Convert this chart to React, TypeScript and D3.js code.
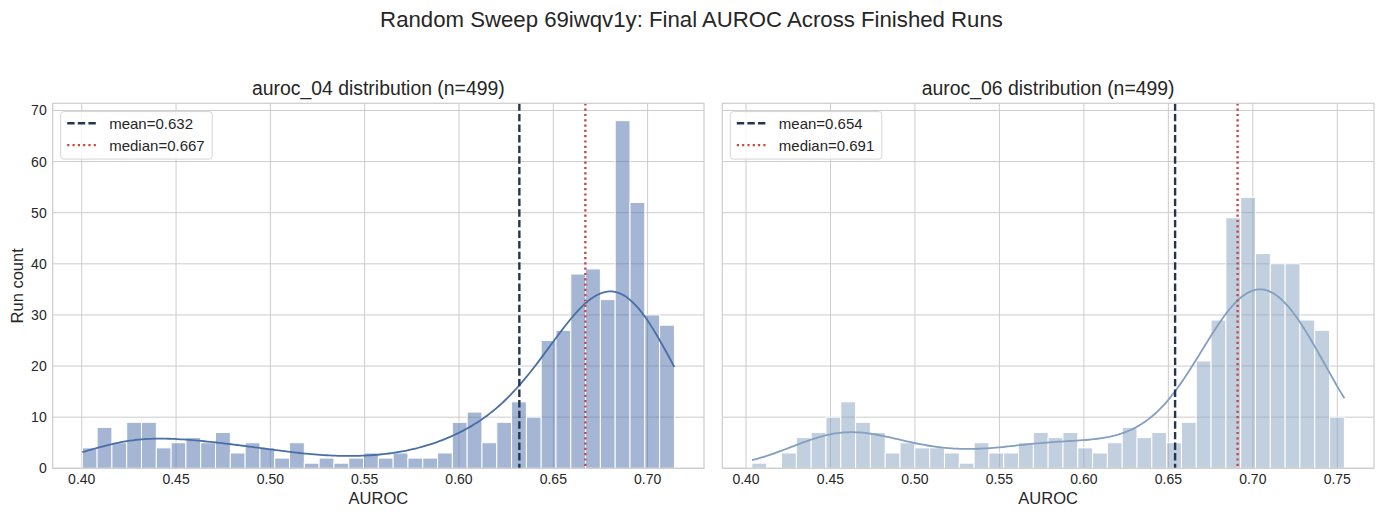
import * as d3 from "d3";

// ---- data ----
const leftCounts = [
  4, 8, 5, 9, 9, 4, 5, 6, 5, 7, 3, 5, 4, 2, 5, 1, 2, 1, 2, 3,
  2, 3, 2, 2, 3, 9, 11, 5, 9, 13, 10, 25, 27, 38, 39, 33, 68, 52, 30, 28,
];
const rightCounts = [
  1, 0, 3, 6, 7, 10, 13, 9, 7, 3, 5, 4, 4, 3, 1, 5, 3, 3, 5, 7,
  6, 7, 4, 3, 5, 8, 6, 7, 5, 9, 21, 29, 49, 53, 42, 40, 40, 29, 27, 10,
];
const leftRange = [0.4003, 0.7142];
const rightRange = [0.4035, 0.7542];
const leftTicks = [0.4, 0.45, 0.5, 0.55, 0.6, 0.65, 0.7];
const rightTicks = [0.4, 0.45, 0.5, 0.55, 0.6, 0.65, 0.7, 0.75];
const yTicks = [0, 10, 20, 30, 40, 50, 60, 70];
const stats = [
  { name: "auroc_04", mean: 0.632, median: 0.667 },
  { name: "auroc_06", mean: 0.654, median: 0.691 },
];

const W = 1383;
const H = 517;
const TOP = 103.3;
const BOTTOM = 468.3;
const FONT = "'Liberation Sans', Arial, sans-serif";
const TEXT = "#262626";
const GRID = "#cccccc";
const DASH = "7.4,3.2";
const DOT = "2.2,3.1";

const y = d3.scaleLinear().domain([0, 71.4]).range([BOTTOM, TOP]);

type PanelProps = {
  counts: number[];
  range: number[];
  ticks: number[];
  left: number;
  right: number;
  color: string;
  title: string;
  mean: number;
  median: number;
  showY: boolean;
};

// gaussian kde (scott bandwidth) from the binned counts, scaled to counts
function kde(counts: number[], lo: number, binW: number, n: number) {
  const centers = counts.map((_, i) => lo + (i + 0.5) * binW);
  const mu = d3.sum(counts, (c, i) => c * centers[i]) / n;
  const variance = d3.sum(counts, (c, i) => c * (centers[i] - mu) ** 2) / (n - 1);
  const sigma = Math.sqrt(variance) * Math.pow(n, -0.2);
  return (x: number) => {
    let s = 0;
    counts.forEach((c, i) => {
      const z = (x - centers[i]) / sigma;
      s += c * Math.exp(-0.5 * z * z);
    });
    return (s / (n * sigma * Math.sqrt(2 * Math.PI))) * n * binW;
  };
}

function Panel({ counts, range, ticks, left, right, color, title, mean, median, showY }: PanelProps) {
  const [lo, hi] = range;
  const pad = (hi - lo) * 0.05;
  const x = d3.scaleLinear().domain([lo - pad, hi + pad]).range([left, right]);
  const binW = (hi - lo) / counts.length;
  const n = d3.sum(counts);
  const f = kde(counts, lo, binW, n);
  const grid = d3.range(200).map((i) => lo + ((hi - lo) * i) / 199);
  const line = d3
    .line<number>()
    .x((d) => x(d))
    .y((d) => y(f(d)));

  const lx = left + 8;
  const ly = TOP + 8.3;

  return (
    <g fontFamily={FONT}>
      {ticks.map((t) => (
        <line key={`gx${t}`} x1={x(t)} x2={x(t)} y1={TOP} y2={BOTTOM} stroke={GRID} strokeWidth={1} />
      ))}
      {yTicks.map((t) => (
        <line key={`gy${t}`} x1={left} x2={right} y1={y(t)} y2={y(t)} stroke={GRID} strokeWidth={1} />
      ))}
      {counts.map((c, i) =>
        c > 0 ? (
          <rect
            key={i}
            x={x(lo + i * binW)}
            width={x(lo + (i + 1) * binW) - x(lo + i * binW)}
            y={y(c)}
            height={y(0) - y(c)}
            fill={color}
            fillOpacity={0.5}
            stroke="#ffffff"
            strokeWidth={1}
          />
        ) : null
      )}
      <path d={line(grid) ?? ""} fill="none" stroke={color} strokeWidth={1.8} />
      <line x1={x(mean)} x2={x(mean)} y1={TOP} y2={BOTTOM} stroke="#243550" strokeWidth={2.4} strokeDasharray={DASH} />
      <line x1={x(median)} x2={x(median)} y1={TOP} y2={BOTTOM} stroke="#c8474a" strokeWidth={2.4} strokeDasharray={DOT} />
      <rect x={left} y={TOP} width={right - left} height={BOTTOM - TOP} fill="none" stroke={GRID} strokeWidth={1.2} />
      {ticks.map((t) => (
        <text key={`tx${t}`} x={x(t)} y={BOTTOM + 15.8} textAnchor="middle" fontSize={14} fill={TEXT}>
          {t.toFixed(2)}
        </text>
      ))}
      {showY &&
        yTicks.map((t) => (
          <text key={`ty${t}`} x={left - 6} y={y(t) + 5} textAnchor="end" fontSize={14} fill={TEXT}>
            {t}
          </text>
        ))}
      <text x={(left + right) / 2} y={BOTTOM + 36} textAnchor="middle" fontSize={16.5} fill={TEXT}>
        AUROC
      </text>
      <text x={(left + right) / 2} y={TOP - 8} textAnchor="middle" fontSize={19.4} fill={TEXT}>
        {title}
      </text>
      {/* legend */}
      <rect x={lx} y={ly} width={151.5} height={47.5} rx={3} fill="#ffffff" fillOpacity={0.8} stroke="#d6d6d6" strokeWidth={1} />
      <line x1={lx + 6.5} x2={lx + 37} y1={ly + 11.7} y2={ly + 11.7} stroke="#243550" strokeWidth={2.4} strokeDasharray={DASH} />
      <text x={lx + 48.5} y={ly + 17} fontSize={15} fill={TEXT}>
        {`mean=${mean.toFixed(3)}`}
      </text>
      <text x={lx + 48.5} y={ly + 39} fontSize={15} fill={TEXT}>
        {`median=${median.toFixed(3)}`}
      </text>
      <line x1={lx + 6.5} x2={lx + 37} y1={ly + 33.5} y2={ly + 33.5} stroke="#c8474a" strokeWidth={2.4} strokeDasharray={DOT} />
    </g>
  );
}

export default function App() {
  return (
    <svg
      width={W}
      height={H}
      viewBox={`0 0 ${W} ${H}`}
      style={{ position: "absolute", left: 0, top: 0, background: "#ffffff" }}
    >
      <rect width={W} height={H} fill="#ffffff" />
      <text x={691.5} y={26.5} textAnchor="middle" fontSize={22.2} fill={TEXT} fontFamily={FONT}>
        Random Sweep 69iwqv1y: Final AUROC Across Finished Runs
      </text>
      <Panel
        counts={leftCounts}
        range={leftRange}
        ticks={leftTicks}
        left={52.7}
        right={704}
        color="#4a6ea8"
        title={`${stats[0].name} distribution (n=${d3.sum(leftCounts)})`}
        mean={stats[0].mean}
        median={stats[0].median}
        showY
      />
      <Panel
        counts={rightCounts}
        range={rightRange}
        ticks={rightTicks}
        left={722.3}
        right={1374}
        color="#849fbf"
        title={`${stats[1].name} distribution (n=${d3.sum(rightCounts)})`}
        mean={stats[1].mean}
        median={stats[1].median}
        showY={false}
      />
      <text
        transform={`translate(22.5,${(TOP + BOTTOM) / 2}) rotate(-90)`}
        textAnchor="middle"
        fontSize={16.5}
        fill={TEXT}
        fontFamily={FONT}
      >
        Run count
      </text>
    </svg>
  );
}
